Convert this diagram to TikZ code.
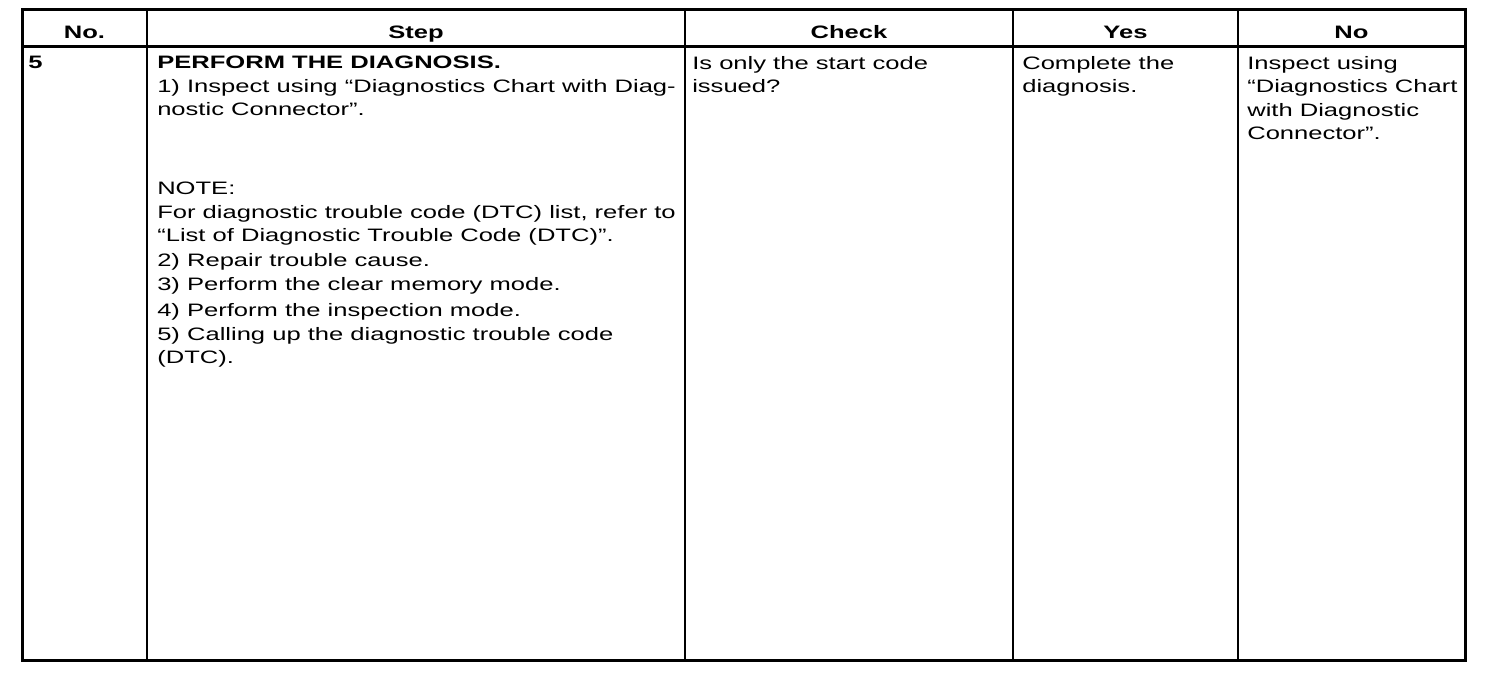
\documentclass[tikz,border=0pt]{standalone}
\usepackage{fontspec}
\setmainfont{Liberation Sans}
\usetikzlibrary{positioning}
\tikzset{
  head/.style={anchor=base, inner sep=0, xscale=1.42, transform shape,
    font=\fontsize{18}{23.5}\selectfont\bfseries},
  cell/.style={anchor=north west, align=left, inner sep=0, xscale=1.42, transform shape,
    font=\fontsize{18}{23.5}\selectfont},
  frame/.style={line width=3pt},
  rule/.style={line width=2pt},
}
\begin{document}
\begin{tikzpicture}[x=1pt,y=-1pt]
  \useasboundingbox (0,0) rectangle (1504,672);
  % table lines
  \draw[frame] (22,9) rectangle (1465,660);
  \draw[frame] (22,46) -- (1465,46);
  \foreach \x in {147,685,1013,1238}
    \draw[rule] (\x,9) -- (\x,660);
  % header
  \node[head] (hNo) at (84.5,38) {No.};
  \node[head] (hStep) at (416,38) {Step};
  \node[head] (hCheck) at (849,38) {Check};
  \node[head] (hYes) at (1125.5,38) {Yes};
  \node[head] (hNoAns) at (1351.5,38) {No};
  % row 5
  \node[cell, font=\fontsize{18}{23.5}\selectfont\bfseries] (cNo) at (28,56) {5};
  \node[cell] (cStep) at (157,56) {\textbf{PERFORM THE DIAGNOSIS.}\\
    1) Inspect using “Diagnostics Chart with Diag-\\
    nostic Connector”.\\[55.5pt]
    NOTE:\\
    For diagnostic trouble code (DTC) list, refer to\\
    “List of Diagnostic Trouble Code (DTC)”.\\[1.5pt]
    2) Repair trouble cause.\\
    3) Perform the clear memory mode.\\[3pt]
    4) Perform the inspection mode.\\
    5) Calling up the diagnostic trouble code\\
    (DTC).};
  \node[cell] (cCheck) at (692,56) {Is only the start code\\issued?};
  \node[cell] (cYes) at (1022,56) {Complete the\\diagnosis.};
  \node[cell] (cNoAns) at (1247,56) {Inspect using\\“Diagnostics Chart\\with Diagnostic\\Connector”.};
\end{tikzpicture}
\end{document}
